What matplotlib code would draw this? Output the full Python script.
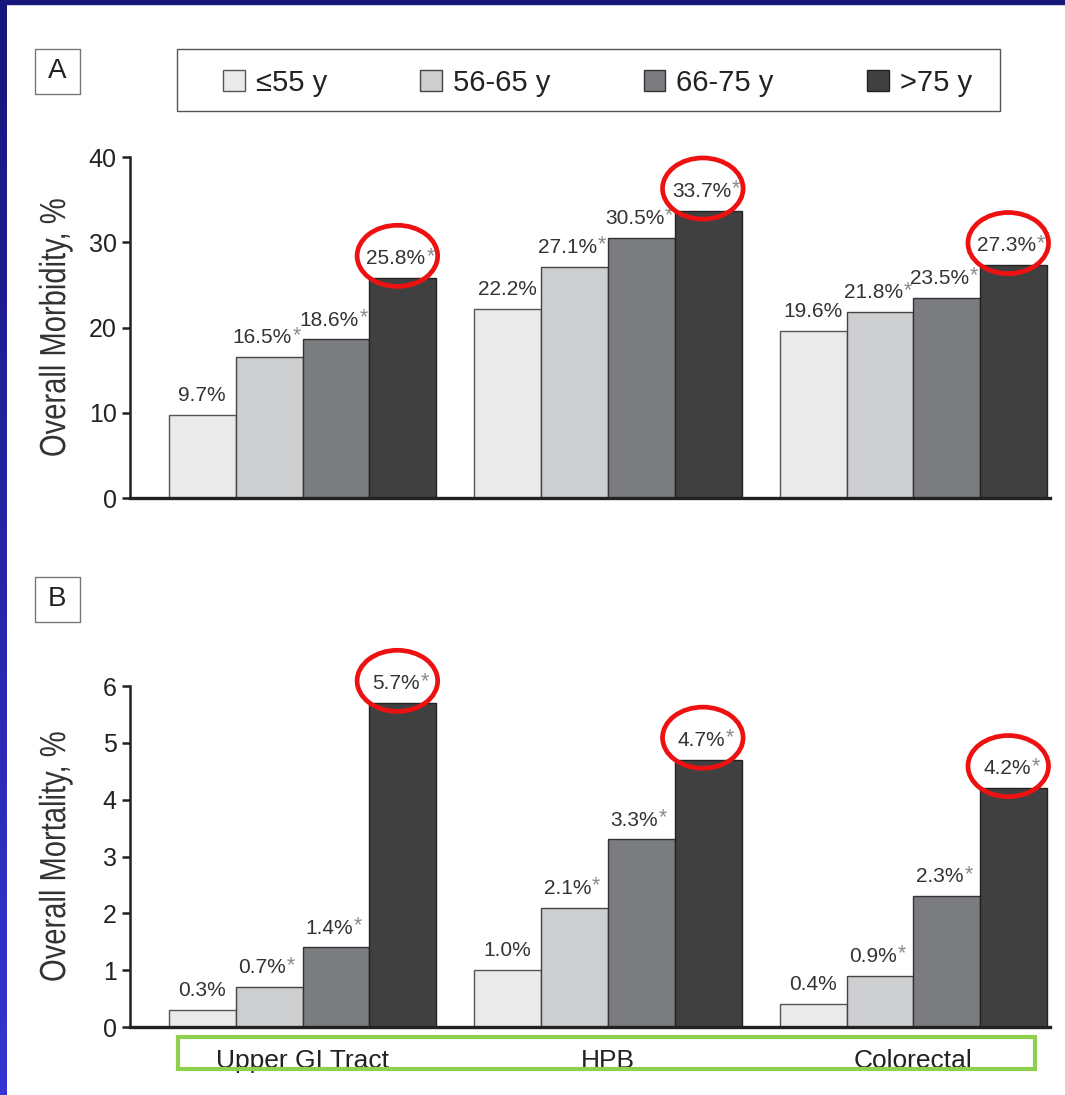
import numpy as np
import matplotlib
matplotlib.use("Agg")
import matplotlib.pyplot as plt
import matplotlib.transforms as mtransforms
from matplotlib.patches import Patch, Rectangle, Ellipse
from matplotlib.patheffects import AbstractPathEffect

plt.rcParams["font.family"] = ["Liberation Sans", "DejaVu Sans"]

# --- data ------------------------------------------------------------------
sites = ["Upper GI Tract", "HPB", "Colorectal"]
age_groups = ["\u226455 y", "56-65 y", "66-75 y", ">75 y"]

morb_le55 = [9.7, 22.2, 19.6]
morb_56_65 = [16.5, 27.1, 21.8]
morb_66_75 = [18.6, 30.5, 23.5]
morb_gt75 = [25.8, 33.7, 27.3]

mort_le55 = [0.3, 1.0, 0.4]
mort_56_65 = [0.7, 2.1, 0.9]
mort_66_75 = [1.4, 3.3, 2.3]
mort_gt75 = [5.7, 4.7, 4.2]

starred = [False, True, True, True]      # significance mark per age group
circled = [False, False, False, True]    # red ring around the oldest group

bar_colors = ["#e9eae9", "#cdced0", "#7b7c80", "#404040"]
edge_colors = ["#555555", "#444444", "#333333", "#222222"]


class Tall(AbstractPathEffect):
    """Stretch glyphs away from the baseline (the axis titles use a condensed face)."""

    def __init__(self, sy=1.25):
        super().__init__()
        self.sy = sy

    def draw_path(self, renderer, gc, tpath, affine, rgbFace=None):
        renderer.draw_path(gc, tpath, mtransforms.Affine2D().scale(1, self.sy) + affine,
                           rgbFace)


W, H = 1065, 1095
fig = plt.figure(figsize=(W / 100, H / 100), dpi=100)

# --- slide border (blue strip on the left and top) -------------------------
strip = fig.add_axes([0, 0, 7 / W, 1])
grad = np.linspace(0, 1, 256).reshape(-1, 1)
cmap = matplotlib.colors.LinearSegmentedColormap.from_list("slide", ["#3535d2", "#15157a"])
strip.imshow(grad, aspect="auto", cmap=cmap, origin="lower")
strip.axis("off")
fig.patches.append(Rectangle((0, 1 - 3.5 / H), 1, 3.5 / H, transform=fig.transFigure,
                             color="#15157a", zorder=5))

x = np.arange(len(sites))
bw = 0.219


def letter_box(letter, top):
    fig.patches.append(Rectangle((35 / W, 1 - (top + 45) / H), 45 / W, 45 / H,
                                 transform=fig.transFigure, fill=False,
                                 edgecolor="#777777", linewidth=1.0))
    fig.text(57.5 / W, 1 - (top + 22.5) / H, letter, fontsize=20, ha="center",
             va="center", color="#222222")


def panel(rect, series, ymax, yticks, ylabel):
    ax = fig.add_axes(rect)
    for j, vals in enumerate(series):
        pos = x + (j - 1.5) * bw
        ax.bar(pos, vals, bw, color=bar_colors[j], edgecolor=edge_colors[j],
               linewidth=1.0, zorder=2)
        for px, v in zip(pos, vals):
            shift = -5 if starred[j] else 0
            t = ax.annotate(f"{v:.1f}%", xy=(px, v), xytext=(shift, 10),
                            textcoords="offset points", ha="center", va="baseline",
                            fontsize=15, color="#333333")
            if starred[j]:
                ax.annotate("*", xy=(1, 1), xycoords=t, xytext=(0.5, 2.5),
                            textcoords="offset points", ha="left", va="top",
                            fontsize=15.5, color="#8a8a8a")
            if circled[j]:
                tr = (mtransforms.Affine2D().scale(fig.dpi / 72)
                      + mtransforms.ScaledTranslation(px, v, ax.transData))
                ax.add_patch(Ellipse((-4, 16), 58, 44, transform=tr, fill=False,
                                     edgecolor="#ee1111", linewidth=3.4,
                                     clip_on=False, zorder=6))
    ax.set_xlim(-0.565, 2.447)
    ax.set_ylim(0, ymax)
    ax.set_yticks(yticks)
    ax.tick_params(axis="y", labelsize=18, length=6, width=1.8, pad=3.5,
                   colors="#222222")
    ax.spines["top"].set_visible(False)
    ax.spines["right"].set_visible(False)
    ax.spines["left"].set_linewidth(1.8)
    ax.spines["left"].set_color("#222222")
    ax.spines["bottom"].set_linewidth(2.4)
    ax.spines["bottom"].set_color("#222222")
    ax.set_ylabel(ylabel, fontsize=21, color="#333333")
    ax.yaxis.label.set_path_effects([Tall(1.25)])
    ax.yaxis.set_label_coords(-0.064, 0.5)
    return ax


letter_box("A", 49)
axA = panel([0.1221, 0.5452, 0.8638, 0.3114],
            [morb_le55, morb_56_65, morb_66_75, morb_gt75],
            40, [0, 10, 20, 30, 40], "Overall Morbidity, %")
axA.set_xticks([])

letter_box("B", 577)
axB = panel([0.1221, 0.0621, 0.8638, 0.3114],
            [mort_le55, mort_56_65, mort_66_75, mort_gt75],
            6, range(0, 7), "Overall Mortality, %")
axB.set_xticks(x)
axB.set_xticklabels(sites, fontsize=19, color="#222222")
axB.tick_params(axis="x", length=0, pad=16)

# --- legend -----------------------------------------------------------------
fig.patches.append(Rectangle((177 / W, 1 - 111 / H), 823 / W, 62 / H,
                             transform=fig.transFigure, fill=False,
                             edgecolor="#555555", linewidth=1.0))
handles = [Patch(facecolor=c, edgecolor=e, linewidth=1.0)
           for c, e in zip(bar_colors, edge_colors)]
fig.legend(handles, age_groups, loc="center", ncol=4, mode="expand",
           bbox_to_anchor=(223 / W, 1 - 103 / H, 749 / W, 40 / H),
           fontsize=21, frameon=False, labelcolor="#222222",
           handlelength=0.74, handleheight=0.74, handletextpad=0.38,
           borderpad=0, borderaxespad=0)

# green box round the category labels
fig.patches.append(Rectangle((178 / W, 1 - 1069 / H), 857 / W, 32 / H,
                             transform=fig.transFigure, fill=False,
                             edgecolor="#8fd14f", linewidth=3.0, zorder=5))

fig.savefig("out.png", dpi=100)
